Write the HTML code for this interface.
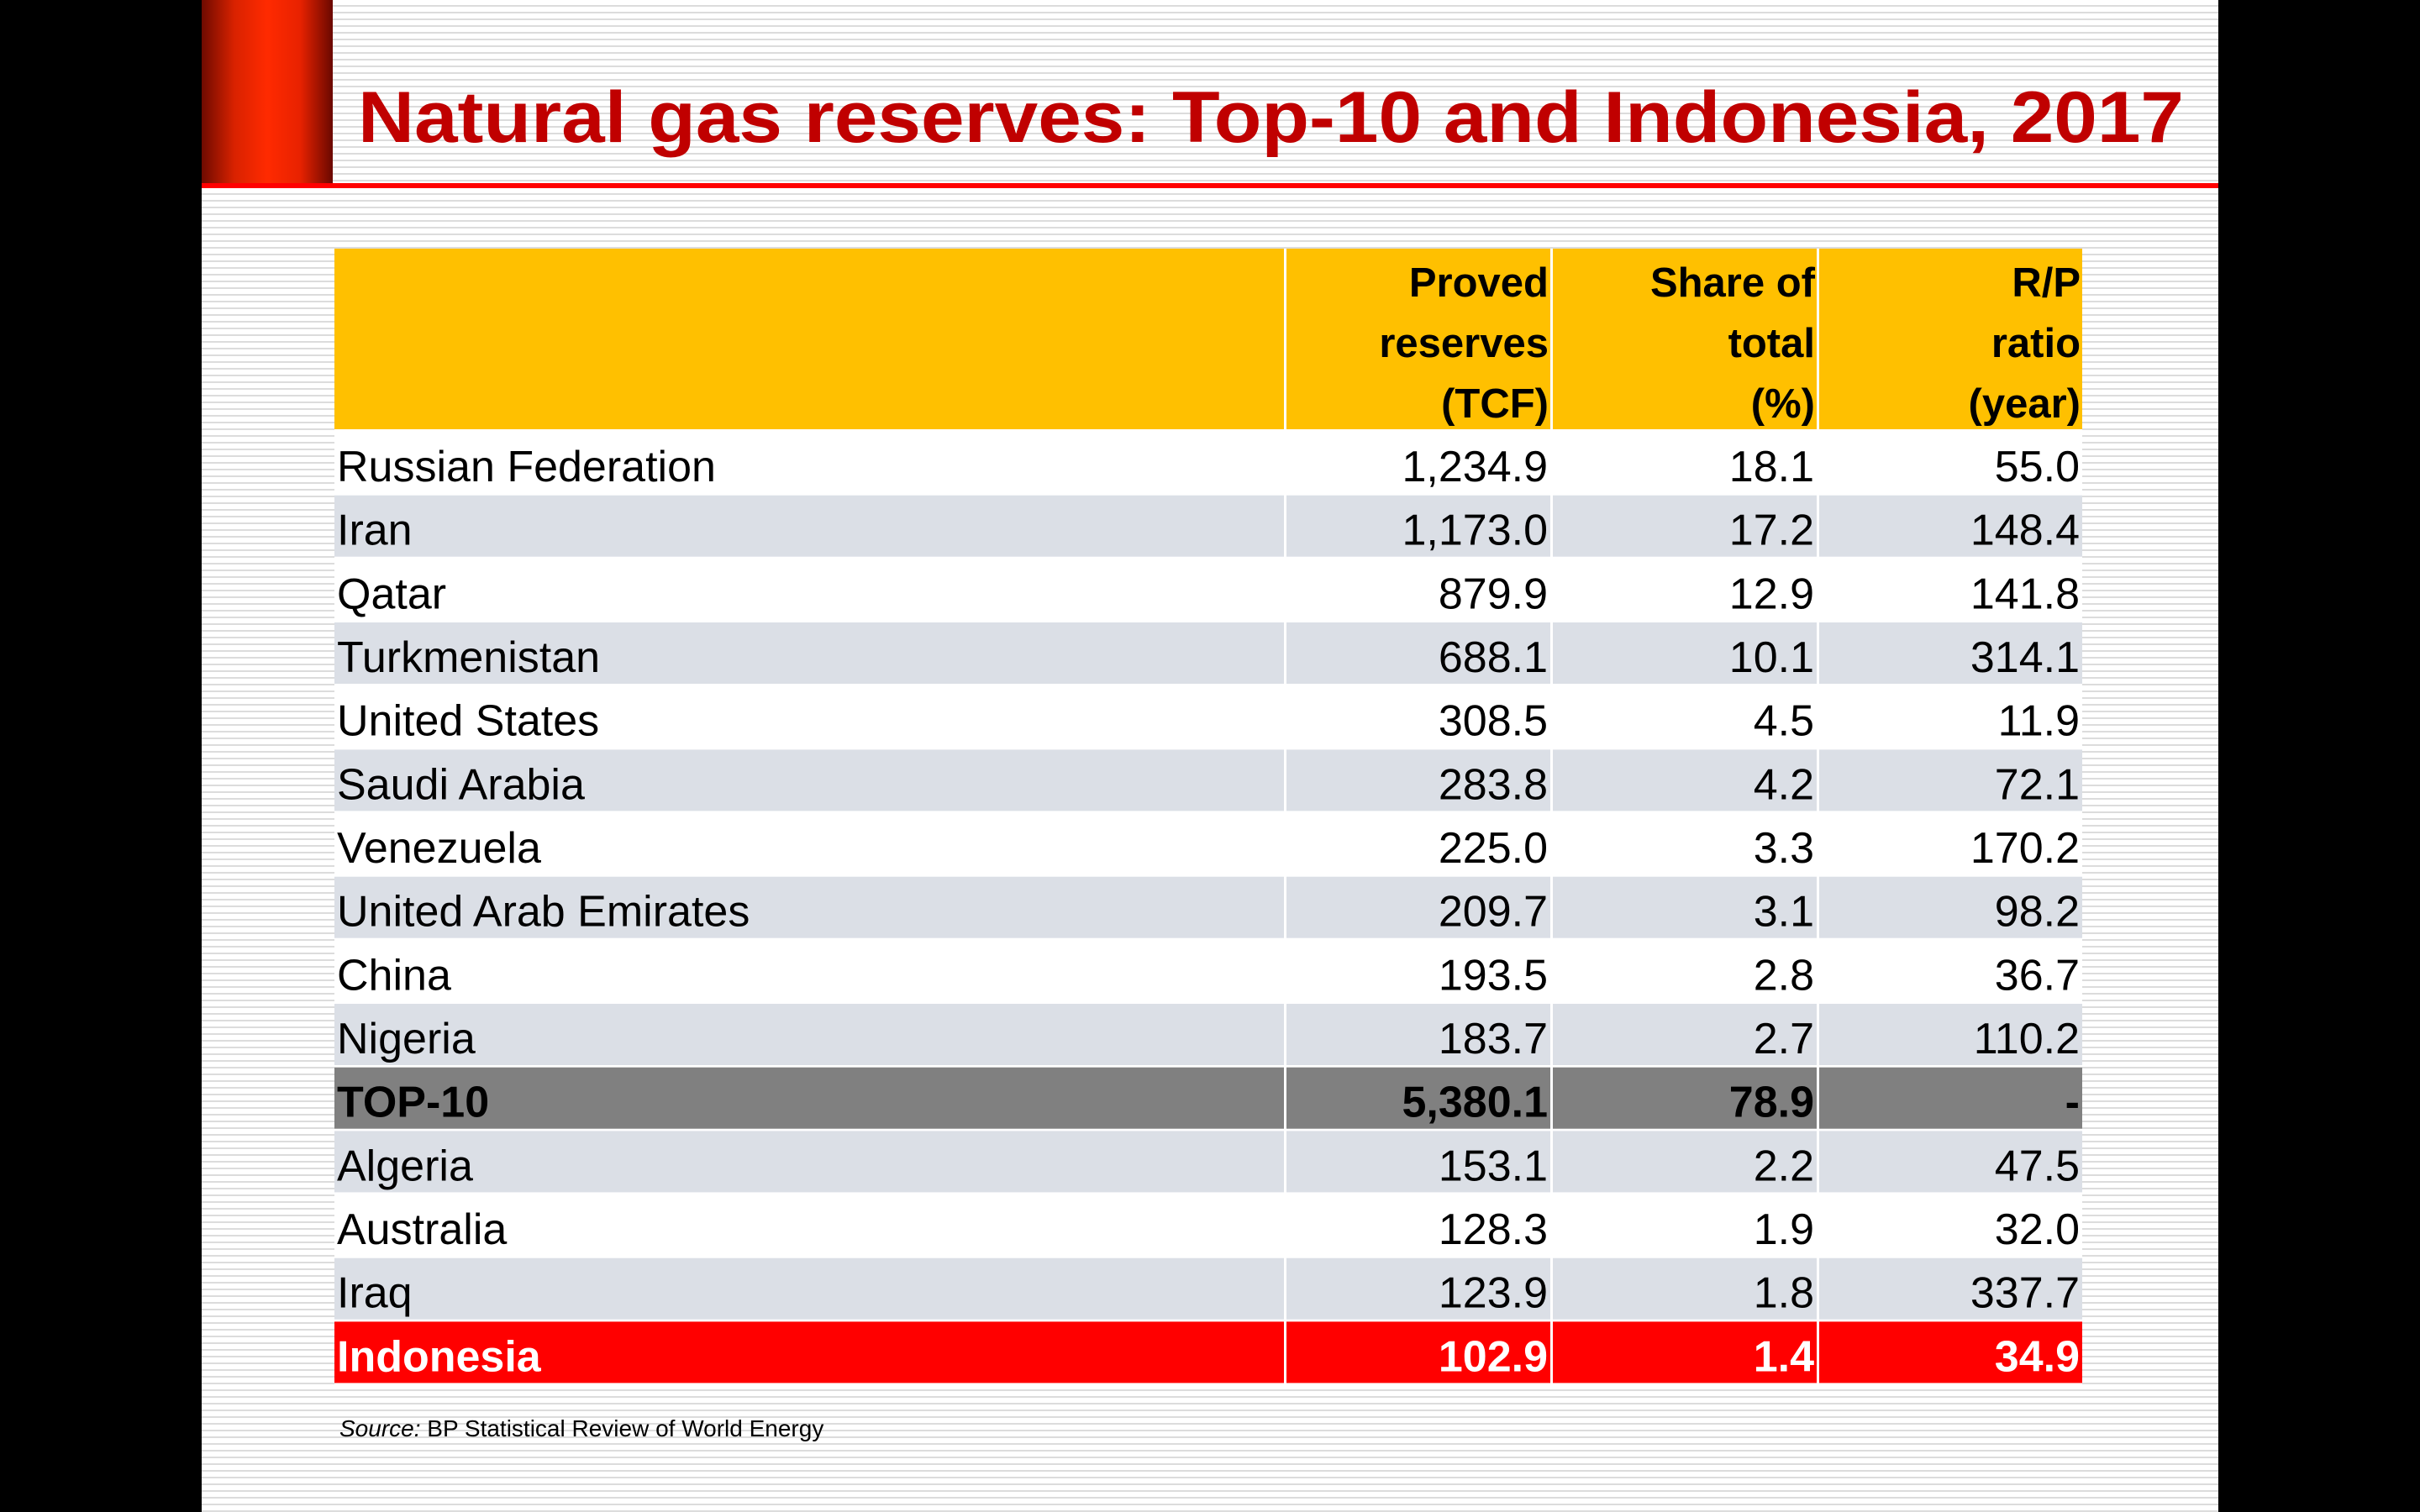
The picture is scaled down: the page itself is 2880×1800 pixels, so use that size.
<!DOCTYPE html>
<html><head><meta charset="utf-8"><style>
html,body{margin:0;padding:0;width:2880px;height:1800px;overflow:hidden;background:#000}
.slide{position:absolute;left:240px;top:0;width:2400px;height:1800px;background:repeating-linear-gradient(to bottom,#fff 0px,#fff 6px,#dcdcdc 6px,#dcdcdc 8px)}
svg{position:absolute;left:0;top:0}
text{font-family:"Liberation Sans",sans-serif}
</style></head><body>
<div class="slide"></div>
<svg width="2880" height="1800" viewBox="0 0 2880 1800">
<defs><linearGradient id="rg" x1="0" x2="1" y1="0" y2="0">
<stop offset="0" stop-color="#6e0a00"/><stop offset="0.25" stop-color="#d92200"/><stop offset="0.5" stop-color="#ff2a00"/><stop offset="0.75" stop-color="#e82200"/><stop offset="1" stop-color="#6a0800"/></linearGradient></defs>
<rect x="240" y="0" width="156" height="219" fill="url(#rg)"/>
<rect x="240" y="218" width="2400" height="6" fill="#ff0000"/>
<text x="426" y="169" font-size="86" font-weight="bold" fill="#c00000" textLength="2173" lengthAdjust="spacingAndGlyphs">Natural gas reserves: Top-10 and Indonesia, 2017</text>
<rect x="398" y="296" width="2080" height="1353" fill="#fff"/>
<g id="tbl"></g>
<text x="404" y="1710" font-size="28" fill="#000"><tspan font-style="italic">Source:</tspan> BP Statistical Review of World Energy</text>
</svg>
<script>
var rows=[["Russian Federation","1,234.9","18.1","55.0"],["Iran","1,173.0","17.2","148.4"],["Qatar","879.9","12.9","141.8"],["Turkmenistan","688.1","10.1","314.1"],["United States","308.5","4.5","11.9"],["Saudi Arabia","283.8","4.2","72.1"],["Venezuela","225.0","3.3","170.2"],["United Arab Emirates","209.7","3.1","98.2"],["China","193.5","2.8","36.7"],["Nigeria","183.7","2.7","110.2"],["TOP-10","5,380.1","78.9","-"],["Algeria","153.1","2.2","47.5"],["Australia","128.3","1.9","32.0"],["Iraq","123.9","1.8","337.7"],["Indonesia","102.9","1.4","34.9"]];
var cols=[[398,1528],[1531,1845],[1848,2162],[2165,2478]];
var s='';
cols.forEach(function(c){s+='<rect x="'+c[0]+'" y="296" width="'+(c[1]-c[0])+'" height="215" fill="#ffc000"/>';});
var hd=[["Proved","reserves","(TCF)"],["Share of","total","(%)"],["R/P","ratio","(year)"]];
hd.forEach(function(h,i){h.forEach(function(t,j){s+='<text x="'+(cols[i+1][1]-2)+'" y="'+(353+j*72)+'" font-size="49" font-weight="bold" text-anchor="end">'+t+'</text>';});});
rows.forEach(function(r,i){
 var y=514+i*75.67, fill, tc='#000', fw='normal';
 if(i==10){fill='#808080';fw='bold';} else if(i==14){fill='#ff0000';tc='#fff';fw='bold';} else fill=(i%2==1)?'#dbdfe6':'#ffffff';
 if(i==11||i==13)fill='#dbdfe6'; if(i==12)fill='#ffffff';
 cols.forEach(function(c,k){
  s+='<rect x="'+c[0]+'" y="'+y.toFixed(1)+'" width="'+(c[1]-c[0])+'" height="73" fill="'+fill+'"/>';
  if(k==0)s+='<text x="401" y="'+(y+59).toFixed(1)+'" font-size="52" font-weight="'+fw+'" fill="'+tc+'">'+r[0]+'</text>';
  else s+='<text x="'+(c[1]-3)+'" y="'+(y+59).toFixed(1)+'" font-size="52" font-weight="'+fw+'" fill="'+tc+'" text-anchor="end">'+r[k]+'</text>';
 });
});
document.getElementById('tbl').innerHTML=s;
</script>
</body></html>
